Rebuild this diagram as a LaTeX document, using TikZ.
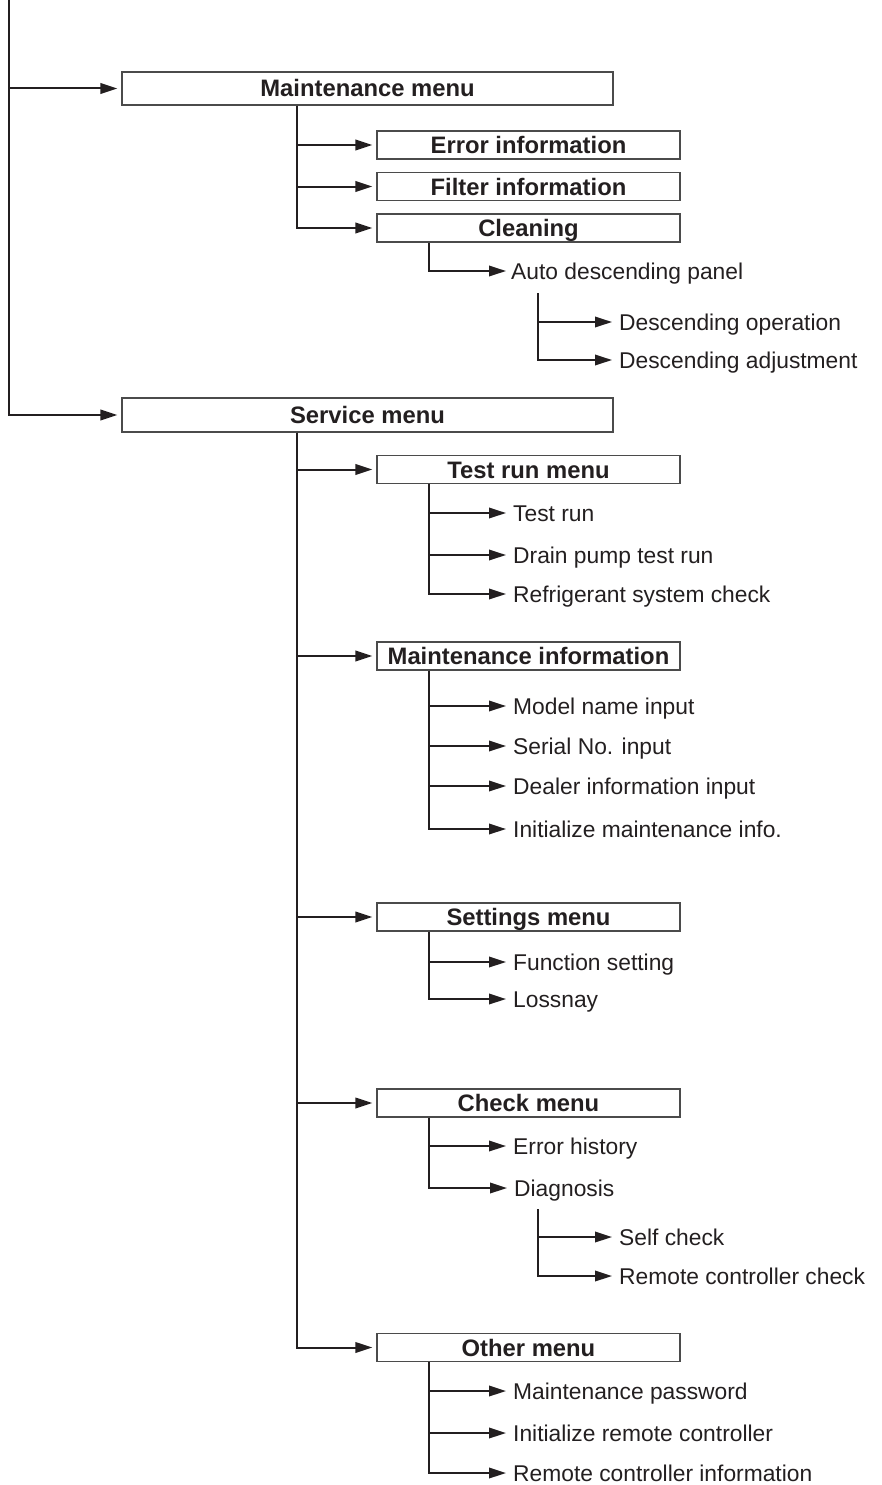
\documentclass[tikz,border=0pt]{standalone}
\usepackage{fontspec}
\setmainfont{Liberation Sans}
\usetikzlibrary{arrows.meta, positioning}
\definecolor{ink}{RGB}{35,31,32}
\definecolor{frame}{RGB}{75,75,75}

\begin{document}
\begin{tikzpicture}[
    x=1pt, y=-1pt,
    menu/.style={draw=frame, line width=1.2pt, minimum width=491pt, minimum height=33pt,
                 inner sep=2pt, text height=17pt, text depth=0pt, text=ink,
                 font=\fontsize{23.8}{26}\selectfont\bfseries},
    sub/.style={menu, minimum width=303pt, minimum height=28pt},
    leaf/.style={anchor=west, inner sep=0pt, text height=16pt, text depth=0pt, text=ink,
                 font=\fontsize{22.8}{25}\selectfont},
    arr/.style={-{Triangle[length=17pt,width=10.5pt]}, line width=2pt, draw=ink, shorten >=4pt},
    tip/.style={arr, shorten >=7pt}
]
    \useasboundingbox (0,0) rectangle (881,1485);

    % maintenance side
    \node[menu] (mmenu) at (367.5,88.5) {Maintenance menu};
    \node[sub] (errinfo)  at (528.5,145)   {Error information};
    \node[sub] (filtinfo) at (528.5,186.5) {Filter information};
    \node[sub] (cleaning) at (528.5,228)   {Cleaning};
    \node[leaf] (autodesc) at (511,271) {Auto descending panel};
    \node[leaf] (descop)   at (619,322) {Descending operation};
    \node[leaf] (descadj)  at (619,360) {Descending adjustment};

    % service side
    \node[menu, minimum height=34pt] (smenu) at (367.5,415) {Service menu};
    \node[sub] (testrun) at (528.5,469.5) {Test run menu};
    \node[leaf] (trun)   at (513,513) {Test run};
    \node[leaf] (drain)  at (513,555) {Drain pump test run};
    \node[leaf] (refrig) at (513,594) {Refrigerant system check};

    \node[sub] (mainfo) at (528.5,656) {Maintenance information};
    \node[leaf] (model)     at (513,706) {Model name input};
    \node[leaf] (serial)    at (513,746) {Serial No. input};
    \node[leaf] (dealer)    at (513,786) {Dealer information input};
    \node[leaf] (initmaint) at (513,829) {Initialize maintenance info.};

    \node[sub] (settings) at (528.5,917) {Settings menu};
    \node[leaf] (func)    at (513,962) {Function setting};
    \node[leaf] (lossnay) at (513,999) {Lossnay};

    \node[sub] (check) at (528.5,1103) {Check menu};
    \node[leaf] (errhist) at (513,1146) {Error history};
    \node[leaf] (diag)    at (514,1188) {Diagnosis};
    \node[leaf] (selfchk) at (619,1237) {Self check};
    \node[leaf] (rcchk)   at (619,1276) {Remote controller check};

    \node[sub] (other) at (528.5,1347.5) {Other menu};
    \node[leaf] (passwd) at (513,1391) {Maintenance password};
    \node[leaf] (initrc) at (513,1433) {Initialize remote controller};
    \node[leaf] (rcinfo) at (513,1473) {Remote controller information};

    % forks
    \coordinate (root)   at (8.5,0);
    \coordinate (adfork) at (538,293);
    \coordinate (dgfork) at (538,1209);

    % connectors
    \draw[arr] (root) |- (mmenu.west);
    \draw[arr] (root) |- (smenu.west);

    \draw[arr] ([xshift=176pt]mmenu.south west) |- (errinfo.west);
    \draw[arr] ([xshift=176pt]mmenu.south west) |- (filtinfo.west);
    \draw[arr] ([xshift=176pt]mmenu.south west) |- (cleaning.west);
    \draw[arr, shorten >=5pt] ([xshift=53pt]cleaning.south west) |- (autodesc.west);
    \draw[tip] (adfork) |- (descop.west);
    \draw[tip] (adfork) |- (descadj.west);

    \draw[arr] ([xshift=176pt]smenu.south west) |- (testrun.west);
    \draw[arr] ([xshift=176pt]smenu.south west) |- (mainfo.west);
    \draw[arr] ([xshift=176pt]smenu.south west) |- (settings.west);
    \draw[arr] ([xshift=176pt]smenu.south west) |- (check.west);
    \draw[arr] ([xshift=176pt]smenu.south west) |- (other.west);

    \draw[tip] ([xshift=53pt]testrun.south west) |- (trun.west);
    \draw[tip] ([xshift=53pt]testrun.south west) |- (drain.west);
    \draw[tip] ([xshift=53pt]testrun.south west) |- (refrig.west);

    \draw[tip] ([xshift=53pt]mainfo.south west) |- (model.west);
    \draw[tip] ([xshift=53pt]mainfo.south west) |- (serial.west);
    \draw[tip] ([xshift=53pt]mainfo.south west) |- (dealer.west);
    \draw[tip] ([xshift=53pt]mainfo.south west) |- (initmaint.west);

    \draw[tip] ([xshift=53pt]settings.south west) |- (func.west);
    \draw[tip] ([xshift=53pt]settings.south west) |- (lossnay.west);

    \draw[tip] ([xshift=53pt]check.south west) |- (errhist.west);
    \draw[tip] ([xshift=53pt]check.south west) |- (diag.west);
    \draw[tip] (dgfork) |- (selfchk.west);
    \draw[tip] (dgfork) |- (rcchk.west);

    \draw[tip] ([xshift=53pt]other.south west) |- (passwd.west);
    \draw[tip] ([xshift=53pt]other.south west) |- (initrc.west);
    \draw[tip] ([xshift=53pt]other.south west) |- (rcinfo.west);
\end{tikzpicture}
\end{document}
